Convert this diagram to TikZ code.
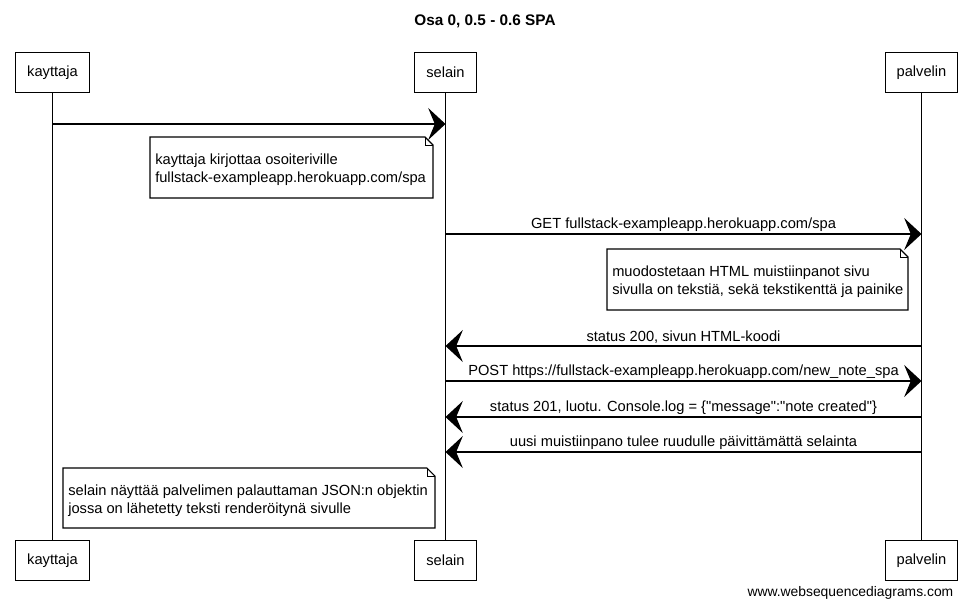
\documentclass[tikz,border=0pt]{standalone}
\usepackage{fontspec}
\setmainfont{Liberation Sans}
\usetikzlibrary{arrows.meta}
\begin{document}
\begin{tikzpicture}[x=0.75pt,y=-0.75pt,
  font=\fontsize{11}{13.5}\selectfont,
  actor/.style={draw, line width=0.8pt, minimum height=30pt, inner sep=0pt, fill=white},
  lifeline/.style={line width=0.6pt},
  msg/.style={line width=0.9pt, -{Stealth[length=13pt, width=24pt, inset=5pt]}},
  lbl/.style={midway, above, inner sep=1.5pt},
  notetext/.style={inner sep=0pt, align=left, anchor=north west},
  notebox/.style={line width=0.8pt, fill=white},
  fold/.style={line width=0.6pt}]
\useasboundingbox (0,0) rectangle (971,608);

% title
\node[font=\fontsize{11.5}{14}\selectfont\bfseries] (title) at (485,21) {Osa 0, 0.5 - 0.6 SPA};

% participants
\node[actor, minimum width=56pt] (kt) at (52.5,72.5) {kayttaja};
\node[actor, minimum width=46pt] (st) at (445.5,72.5) {selain};
\node[actor, minimum width=53.5pt] (pt) at (921.5,72.5) {palvelin};
\node[actor, minimum width=56pt] (kb) at (52.5,560.5) {kayttaja};
\node[actor, minimum width=46pt] (sb) at (445.5,560.5) {selain};
\node[actor, minimum width=53.5pt] (pb) at (921.5,560.5) {palvelin};

% lifelines
\draw[lifeline] (kt) -- (kb);
\draw[lifeline] (st) -- (sb);
\draw[lifeline] (pt) -- (pb);

% message 1
\coordinate (k1) at (kt |- 0,124);
\coordinate (s1) at (st |- 0,124);
\draw[msg] (k1) -- (s1);

% note 1
\draw[notebox] (150,137) -- (425,137) -- (433,145) -- (433,198) -- (150,198) -- cycle;
\draw[fold] (425,137) -- (425,145) -- (433,145);
\node[notetext] (n1) at (155,154) {kayttaja kirjottaa osoiteriville\\fullstack-exampleapp.herokuapp.com/spa};

% message 2
\coordinate (s2) at (st |- 0,234);
\coordinate (p2) at (pt |- 0,234);
\draw[msg] (s2) -- (p2) node[lbl] (l2) {GET fullstack-exampleapp.herokuapp.com/spa};

% note 2
\draw[notebox] (607,249) -- (900,249) -- (908,257) -- (908,310) -- (607,310) -- cycle;
\draw[fold] (900,249) -- (900,257) -- (908,257);
\node[notetext] (n2) at (612,266) {muodostetaan HTML muistiinpanot sivu\\sivulla on tekstiä, sekä tekstikenttä ja painike};

% message 3
\coordinate (p3) at (pt |- 0,346);
\coordinate (s3) at (st |- 0,346);
\draw[msg] (p3) -- (s3) node[lbl] (l3) {status 200, sivun HTML-koodi};

% message 4
\coordinate (s4) at (st |- 0,381);
\coordinate (p4) at (pt |- 0,381);
\draw[msg] (s4) -- (p4) node[lbl] (l4) {POST https://fullstack-exampleapp.herokuapp.com/new\_note\_spa};

% message 5
\coordinate (p5) at (pt |- 0,417);
\coordinate (s5) at (st |- 0,417);
\draw[msg] (p5) -- (s5) node[lbl] (l5) {status 201, luotu. Console.log = \{\textquotedbl message\textquotedbl:\textquotedbl note created\textquotedbl\}};

% message 6
\coordinate (p6) at (pt |- 0,452);
\coordinate (s6) at (st |- 0,452);
\draw[msg] (p6) -- (s6) node[lbl] (l6) {uusi muistiinpano tulee ruudulle päivittämättä selainta};

% note 3
\draw[notebox] (63,468) -- (427,468) -- (435,476) -- (435,528) -- (63,528) -- cycle;
\draw[fold] (427,468) -- (427,476) -- (435,476);
\node[notetext] (n3) at (68,485) {selain näyttää palvelimen palauttaman JSON:n objektin\\jossa on lähetetty teksti renderöitynä sivulle};

% footer
\node[anchor=east, font=\fontsize{10.4}{12}\selectfont] (foot) at (958,593) {www.websequencediagrams.com};
\end{tikzpicture}
\end{document}
